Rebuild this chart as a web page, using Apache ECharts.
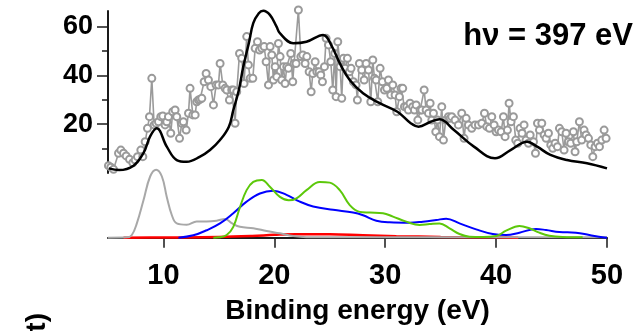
<!DOCTYPE html>
<html>
<head>
<meta charset="utf-8">
<script src="https://cdn.jsdelivr.net/npm/echarts@6/dist/echarts.min.js"></script>
<style>
html, body { margin: 0; padding: 0; background: #fff; }
#main { width: 638px; height: 331px; }
</style>
</head>
<body>
<div id="main"></div>
<script>
// measured spectrum (grey circles), binding energy / intensity
var expE = [5.04, 5.25, 5.5, 5.95, 6.16, 6.4, 6.64, 6.94, 7.24, 7.45, 7.66, 7.96, 8.14, 8.35, 8.56, 8.74, 8.95, 9.16, 9.34, 9.55,
    9.76, 9.94, 10.15, 10.3, 10.45, 10.66, 10.84, 11.05, 11.2, 11.45, 11.66, 11.8, 12.05, 12.26, 12.4, 12.65, 12.86, 13.0, 13.16, 13.3,
    13.46, 13.67, 13.85, 14.06, 14.27, 14.51, 14.75, 14.96, 15.11, 15.35, 15.56, 15.71, 15.95, 16.16, 16.31, 16.46, 16.61, 16.86, 17.06, 17.27,
    17.51, 17.66, 17.82, 18.06, 18.27, 18.48, 18.66, 18.87, 19.08, 19.26, 19.47, 19.62, 19.77, 19.92, 20.07, 20.22, 20.37, 20.52, 20.67, 20.82,
    20.97, 21.12, 21.27, 21.48, 21.66, 21.78, 21.96, 22.17, 22.39, 22.57, 22.78, 22.93, 23.14, 23.32, 23.47, 23.68, 23.83, 24.04, 24.19, 24.34,
    24.52, 24.67, 24.88, 25.09, 25.27, 25.45, 25.57, 25.72, 25.93, 26.08, 26.23, 26.38, 26.59, 26.77, 26.92, 27.13, 27.37, 27.49, 27.67, 27.88,
    28.1, 28.28, 28.49, 28.7, 28.88, 29.03, 29.18, 29.33, 29.54, 29.75, 29.93, 30.14, 30.29, 30.5, 30.68, 30.89, 31.04, 31.28, 31.43, 31.58,
    31.73, 31.94, 32.09, 32.24, 32.48, 32.63, 32.79, 32.94, 33.15, 33.3, 33.51, 33.69, 33.9, 34.05, 34.2, 34.35, 34.56, 34.71, 34.89, 35.1,
    35.25, 35.46, 35.7, 35.85, 36.0, 36.3, 36.6, 36.9, 37.11, 37.3, 37.5, 37.8, 38.1, 38.41, 38.71, 38.95, 39.16, 39.4, 39.61, 39.82,
    40.0, 40.21, 40.45, 40.66, 40.81, 41.02, 41.17, 41.35, 41.56, 41.77, 41.95, 42.16, 42.34, 42.52, 42.7, 42.92, 43.07, 43.37, 43.55, 43.73,
    43.91, 44.12, 44.33, 44.51, 44.72, 44.93, 45.11, 45.32, 45.53, 45.71, 45.92, 46.13, 46.31, 46.52, 46.73, 46.97, 47.12, 47.27, 47.51, 47.72,
    47.93, 48.11, 48.33, 48.54, 48.72, 48.93, 49.14, 49.32, 49.53, 49.74, 49.92];
var expI = [3.0, 2.4, 1.5, 8.1, 9.4, 8.1, 7.0, 5.6, 4.2, 5.3, 6.7, 9.4, 6.7, 12.8, 18.3, 23.1, 38.8, 19.7, 20.4, 21,
    23.1, 23.4, 19.7, 21, 23.1, 16.3, 25.1, 25.8, 23.1, 14.2, 20.4, 21, 17.6, 24.5, 34.7, 23.8, 23.8, 29.2, 29.9, 30.2,
    30.6, 37.4, 40.8, 38.1, 35.4, 27.9, 36.1, 36.1, 44.9, 36.1, 34.7, 34, 29.9, 34, 34, 20.4, 33.3, 49, 47, 36.7,
    55.9, 44.3, 38.8, 38.8, 51.1, 53.8, 50.4, 51.1, 51.8, 45.6, 36.1, 51.8, 48.4, 38.1, 43.6, 39.5, 53.1, 47.7, 38.1, 43.6,
    36.7, 43.6, 42.9, 49, 37.4, 44.9, 44.9, 66.8, 47.7, 48.4, 44.9, 47.7, 41.5, 33.3, 40.8, 45.6, 41.5, 41.5, 40.2, 37.4,
    43.6, 55.2, 52.5, 45.6, 34, 49, 31.3, 53.8, 43.6, 30.6, 47, 42.9, 47, 41.5, 42.9, 37.4, 36.1, 29.9, 44.9, 42.2,
    38.1, 44.9, 42.2, 29.2, 46.3, 38.8, 38.1, 29.2, 42.9, 37.4, 34, 34.7, 38.1, 32, 36.1, 32, 25.1, 31.3, 34.7, 34.7,
    27.2, 27.2, 25.8, 28.6, 27.2, 25.8, 27.9, 21.7, 25.8, 25.8, 34, 25.8, 24.5, 28.6, 21.7, 24.5, 16.9, 21.7, 14.9, 27.2,
    13.5, 21.7, 23.1, 22.4, 23.1, 21.7, 19.7, 24.5, 14.2, 22.4, 19.7, 18.3, 19.7, 19.7, 20.4, 24.5, 19, 18.3, 23.1, 19.7,
    16.9, 17.6, 16.9, 23.1, 14.9, 17.6, 28.6, 21, 23.1, 13.5, 12.2, 18.3, 16.3, 19.7, 13.5, 12.2, 15.6, 12.8, 8.1, 20.4,
    17.6, 20.4, 15.6, 14.2, 16.3, 11.5, 10.1, 12.2, 10.8, 18.3, 16.9, 9.4, 16.3, 12.8, 12.2, 16.9, 8.7, 12.8, 21, 13.5,
    17.6, 15.6, 14.2, 11.5, 6.7, 10.8, 12.2, 10.8, 13.5, 17.6, 14.2];

// calculated total (black line)
var fitE = [5.07, 6.0, 7.3, 8.2, 8.8, 9.4, 10.3, 11.2, 12.1, 13.3, 14.2, 15.1, 15.9, 16.3, 16.8, 17.2, 17.7, 18.1, 18.6, 19.0,
    19.6, 20.2, 20.5, 21.7, 22.9, 24.4, 25.2, 25.9, 26.8, 28.0, 29.5, 31.1, 32.3, 33.0, 34.1, 34.9, 36.2, 38.0, 39.9, 41.3,
    42.8, 43.7, 44.9, 46.4, 48.2, 50];
var fitI = [1.9, 1.2, 3.0, 8.2, 15, 18.3, 10.8, 5.3, 4.6, 6.7, 9.4, 13.5, 19, 25.8, 34, 43.6, 53.2, 61.4, 65.5, 66.5,
    64.8, 60, 57.3, 53.2, 53.8, 56.6, 51.8, 45, 38.1, 32.7, 28.6, 25.1, 20.4, 19, 21, 22, 17.6, 10.8, 6, 9.4,
    12.8, 10.8, 7.4, 5.3, 4, 1.9];

// partial contributions (lower panel)
var greyE = [5, 6.7, 7.15, 7.6, 8.2, 8.8, 9.34, 9.86, 10.3, 10.76, 11.2, 12.1, 13.0, 13.9, 14.8, 15.56, 16.2, 16.9, 18.1, 19.3,
    20.5, 21.7, 22.9, 26, 30, 35, 40, 45, 50];
var greyI = [0, 0.5, 4, 21, 55, 90, 100, 90, 60, 33, 21, 19, 24, 24, 25, 27.5, 21, 16, 14, 10,
    6.4, 2.5, 0.8, 0.5, 0.5, 0.5, 0.5, 0.5, 0.5];
var blueE = [11.35, 12.7, 13.9, 15.1, 16.3, 17.5, 18.7, 19.9, 21.1, 22.3, 23.5, 25.3, 27.1, 28.0, 29.2, 30.4, 32.2, 33.4, 34.6, 35.5,
    36.7, 38.2, 39.7, 40.9, 42.1, 43.6, 44.5, 45.7, 47.2, 48.4, 49.6, 50];
var blueI = [0, 3.5, 11, 21, 36, 53, 65, 69, 63, 53, 46, 41, 37, 33, 25, 22.6, 22, 23.6, 26, 28,
    21, 12.3, 5.4, 4, 7.4, 12.8, 11.3, 8.4, 7.4, 4, 0.5, 0];
var greenE = [14.5, 15.0, 15.7, 16.3, 16.9, 17.5, 18.1, 18.87, 19.6, 20.5, 21.3, 22.0, 22.9, 24.1, 25.0, 25.9, 26.8, 27.7, 28.6, 29.8,
    30.7, 31.9, 33.1, 34.0, 34.9, 35.8, 36.7, 37.6, 38.8, 40.0, 40.9, 42.1, 43.0, 43.9, 44.8, 46.0, 47.8];
var greenI = [0, 0.5, 4, 16, 45, 70, 82, 85, 75, 60, 55, 58, 70, 82, 81, 70, 48, 38, 37, 36,
    31, 23.6, 18.7, 20, 21, 13.8, 5.4, 1.5, 1, 2.5, 10.3, 17.2, 13.8, 7.4, 3, 1, 0.5];
var redE = [6.4, 10, 15, 18, 20, 22, 25, 28, 31, 35, 40, 42];
var redI = [0, 0.3, 1, 2.5, 4.2, 5.2, 5, 3.5, 2.2, 1.2, 0.5, 0];

var xTicks = [10, 20, 30, 40, 50];
var yTicks = [20, 40, 60];
var yMinorTicks = [10, 30, 50];

function pairs(xs, ys) {
    var out = [];
    for (var i = 0; i < xs.length; i++) {
        out.push([xs[i], ys[i]]);
    }
    return out;
}

var axisColor = '#1a1a1a';
var sans = '"Liberation Sans", Arial, sans-serif';

function curve(name, xs, ys, color, width) {
    return {
        name: name,
        type: 'line',
        xAxisIndex: 1,
        yAxisIndex: 2,
        data: pairs(xs, ys),
        smooth: 0.4,
        showSymbol: false,
        clip: false,
        lineStyle: { color: color, width: width || 2 }
    };
}

var chart = echarts.init(document.getElementById('main'));
var option = {
    animation: false,
    backgroundColor: '#fff',
    grid: [
        { left: 108, right: 31, top: 11, height: 162 },
        { left: 108, right: 31, top: 162.9, height: 79.8 }
    ],
    xAxis: [{
        gridIndex: 0, type: 'value', min: 5, max: 50, show: false
    }, {
        gridIndex: 1, type: 'value', min: 5, max: 50,
        axisLine: { lineStyle: { color: axisColor, width: 2 } },
        axisTick: { customValues: xTicks, length: 10, lineStyle: { color: axisColor, width: 1.5 } },
        axisLabel: {
            customValues: xTicks, margin: 19, color: '#000',
            fontFamily: sans, fontWeight: 'bold', fontSize: 29
        },
        splitLine: { show: false },
        name: 'Binding energy (eV)',
        nameLocation: 'middle',
        nameGap: 55,
        nameTextStyle: { color: '#000', fontFamily: sans, fontWeight: 'bold', fontSize: 28 }
    }],
    yAxis: [{
        gridIndex: 0, type: 'value', min: 0, max: 66.4, position: 'left',
        axisLine: { show: true, lineStyle: { color: axisColor, width: 2 } },
        axisTick: { show: true, customValues: yTicks, length: 11, lineStyle: { color: axisColor, width: 1.5 } },
        axisLabel: {
            customValues: yTicks, margin: 15, color: '#000',
            fontFamily: sans, fontWeight: 'bold', fontSize: 27
        },
        splitLine: { show: false }
    }, {
        gridIndex: 0, type: 'value', min: 0, max: 66.4, position: 'left', offset: 0,
        axisLine: { show: false },
        axisTick: { show: true, customValues: yMinorTicks, length: 6, lineStyle: { color: axisColor, width: 1.5 } },
        axisLabel: { show: false },
        splitLine: { show: false }
    }, {
        gridIndex: 1, type: 'value', min: -7.35, max: 110, show: false
    }],
    graphic: [{
        type: 'text', x: 633, y: 36,
        style: {
            text: 'hν = 397 eV', align: 'right', verticalAlign: 'middle',
            font: 'bold 31px ' + sans, fill: '#000'
        }
    }, {
        type: 'text', x: 37, y: 313, rotation: Math.PI / 2,
        style: {
            text: 'Intensity (arb. unit)', align: 'right', verticalAlign: 'middle',
            font: 'bold 28px ' + sans, fill: '#000'
        }
    }],
    series: [{
        name: 'measured',
        type: 'line',
        xAxisIndex: 0,
        yAxisIndex: 0,
        data: pairs(expE, expI),
        symbol: 'emptyCircle',
        symbolSize: 7,
        clip: false,
        z: 2,
        lineStyle: { color: '#9a9a9a', width: 1.6 },
        itemStyle: { color: '#9a9a9a', borderWidth: 1.8 }
    }, {
        name: 'total',
        type: 'line',
        xAxisIndex: 0,
        yAxisIndex: 0,
        data: pairs(fitE, fitI),
        smooth: 0.4,
        showSymbol: false,
        clip: false,
        z: 3,
        lineStyle: { color: '#000', width: 2.5 }
    },
        curve('red', redE, redI, '#ff0000', 2.5),
        curve('grey', greyE, greyI, '#a8a8a8'),
        curve('blue', blueE, blueI, '#0000ff'),
        curve('green', greenE, greenI, '#5cc80a')
    ]
};
chart.setOption(option);
</script>
</body>
</html>
